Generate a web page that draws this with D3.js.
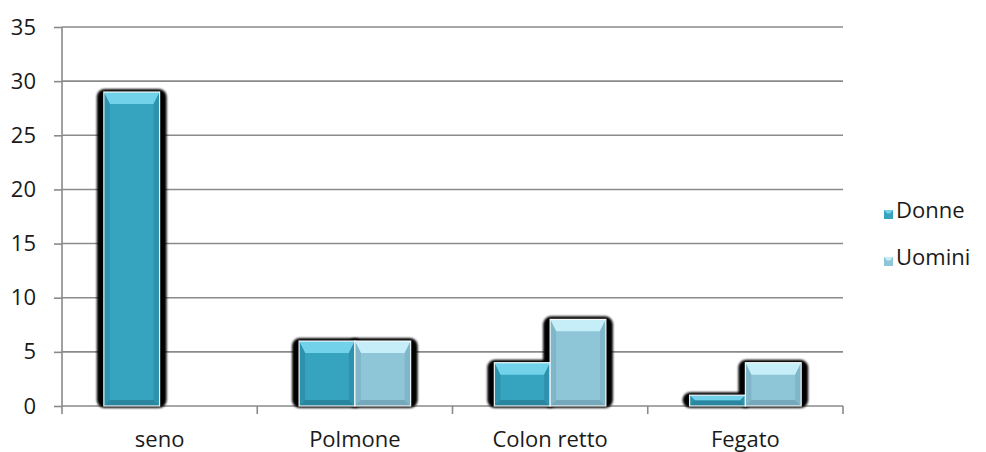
<!DOCTYPE html>
<html>
<head>
<meta charset="utf-8">
<script src="https://cdn.jsdelivr.net/npm/d3@7"></script>
<style>
  html, body { margin: 0; padding: 0; background: #ffffff; }
  svg text { font-family: "Open Sans", "DejaVu Sans", sans-serif; fill: #1a1a1a; }
</style>
</head>
<body>
<svg id="chart" width="986" height="452"></svg>
<script>
// Casi per sede del tumore
const categories = ["seno", "Polmone", "Colon retto", "Fegato"];
const seriesNames = ["Donne", "Uomini"];
const donne = [29, 6, 4, 1];
const uomini = [0, 6, 8, 4];
const yTicks = [0, 5, 10, 15, 20, 25, 30, 35];

const palette = {
  Donne:  { base: "#36a3bf", top: "#72d2ea", side: "#2e92ad", bottom: "#2a859f" },
  Uomini: { base: "#8ec6d8", top: "#c6eef8", side: "#80b6c9", bottom: "#75a8bb" }
};

const svg = d3.select("#chart");
const plotLeft = 62, plotRight = 843, plotTop = 27, plotBottom = 406;
const fontSize = 22;

const x = d3.scaleBand().domain(categories).range([plotLeft, plotRight]).paddingInner(0).paddingOuter(0);
const y = d3.scaleLinear().domain([0, 35]).range([plotBottom, plotTop]);

// inner grouping: gap width 150% of a bar
const gapRatio = 0.75 / 3.5;
const xs = d3.scaleBand().domain(seriesNames)
  .range([x.bandwidth() * gapRatio, x.bandwidth() * (1 - gapRatio)]).padding(0);

const gridColor = "#8a8a8a";

// horizontal gridlines
svg.append("g").selectAll("line").data(yTicks.filter(t => t > 0)).join("line")
  .attr("x1", plotLeft).attr("x2", plotRight)
  .attr("y1", d => y(d)).attr("y2", d => y(d))
  .attr("stroke", gridColor).attr("stroke-width", 1.6);

// y axis
const yAxis = d3.axisLeft(y).tickValues(yTicks).tickSize(8).tickPadding(18);
const gy = svg.append("g").attr("transform", `translate(${plotLeft},0)`).call(yAxis);
gy.select(".domain").remove();
gy.selectAll(".tick line").attr("stroke", gridColor).attr("stroke-width", 1.6);
gy.selectAll(".tick text").attr("font-size", fontSize)
  .style("font-family", '"Open Sans", sans-serif').attr("fill", "#1a1a1a");
svg.append("line").attr("x1", plotLeft).attr("x2", plotLeft).attr("y1", plotTop).attr("y2", plotBottom + 8)
  .attr("stroke", gridColor).attr("stroke-width", 1.6);

// x axis
svg.append("line").attr("x1", plotLeft).attr("x2", plotRight).attr("y1", plotBottom).attr("y2", plotBottom)
  .attr("stroke", gridColor).attr("stroke-width", 1.6);
const bounds = categories.map(c => x(c)).concat([plotRight]);
svg.append("g").selectAll("line").data(bounds.slice(1)).join("line")
  .attr("x1", d => d).attr("x2", d => d).attr("y1", plotBottom).attr("y2", plotBottom + 8)
  .attr("stroke", gridColor).attr("stroke-width", 1.6);
svg.append("g").selectAll("text").data(categories).join("text")
  .attr("x", d => x(d) + x.bandwidth() / 2).attr("y", 447)
  .attr("text-anchor", "middle").attr("font-size", fontSize).text(d => d);

// bars
const records = [];
categories.forEach((c, i) => {
  records.push({ cat: c, series: "Donne", value: donne[i] });
  records.push({ cat: c, series: "Uomini", value: uomini[i] });
});
const bars = records.filter(d => d.value > 0);

const defs = svg.append("defs");
defs.append("filter").attr("id", "soft").attr("x", "-20%").attr("y", "-20%").attr("width", "140%").attr("height", "140%")
  .append("feGaussianBlur").attr("stdDeviation", 0.8);

const barG = svg.append("g");
// shadows first so that neighbouring faces sit on top
barG.selectAll("rect.shadow").data(bars).join("rect").attr("class", "shadow")
  .attr("x", d => x(d.cat) + xs(d.series) - 7)
  .attr("y", d => y(d.value) - 3)
  .attr("width", xs.bandwidth() + 14)
  .attr("height", d => plotBottom - y(d.value) + 5)
  .attr("rx", 8)
  .attr("fill", "#000").attr("filter", "url(#soft)");

const faces = barG.selectAll("g.face").data(bars).join("g").attr("class", "face")
  .attr("transform", d => `translate(${x(d.cat) + xs(d.series)},${y(d.value)})`);

faces.each(function(d) {
  const g = d3.select(this);
  const w = xs.bandwidth();
  const h = plotBottom - y(d.value);
  const col = palette[d.series];
  const b = Math.min(12, h / 2, w / 2);
  const bs = Math.min(6, h / 2, w / 2);
  g.append("rect").attr("width", w).attr("height", h).attr("fill", col.base);
  // bevel sides
  g.append("path").attr("d", `M0,0 L${w},0 L${w - bs},${b} L${bs},${b} Z`).attr("fill", col.top);
  g.append("path").attr("d", `M0,0 L${bs},${b} L${bs},${h - bs} L0,${h} Z`).attr("fill", col.side);
  g.append("path").attr("d", `M${w},0 L${w - bs},${b} L${w - bs},${h - bs} L${w},${h} Z`).attr("fill", col.side);
  g.append("path").attr("d", `M0,${h} L${bs},${h - bs} L${w - bs},${h - bs} L${w},${h} Z`).attr("fill", col.bottom);
  g.append("rect").attr("width", w).attr("height", h).attr("fill", "none")
    .attr("stroke", "#ffffff").attr("stroke-width", 1.2).attr("stroke-opacity", 0.9);
});

// legend
const legend = svg.append("g").attr("transform", "translate(884,218)");
const items = legend.selectAll("g").data(seriesNames).join("g")
  .attr("transform", (d, i) => `translate(0,${i * 47})`);
items.append("rect").attr("x", 0).attr("y", -8).attr("width", 9).attr("height", 9)
  .attr("fill", d => palette[d].base);
items.append("path").attr("d", "M0,-8 L9,-8 L6,-4.5 L3,-4.5 Z").attr("fill", d => palette[d].top);
items.append("text").attr("x", 12).attr("y", 0)
  .attr("font-size", fontSize).text(d => d);
</script>
</body>
</html>
